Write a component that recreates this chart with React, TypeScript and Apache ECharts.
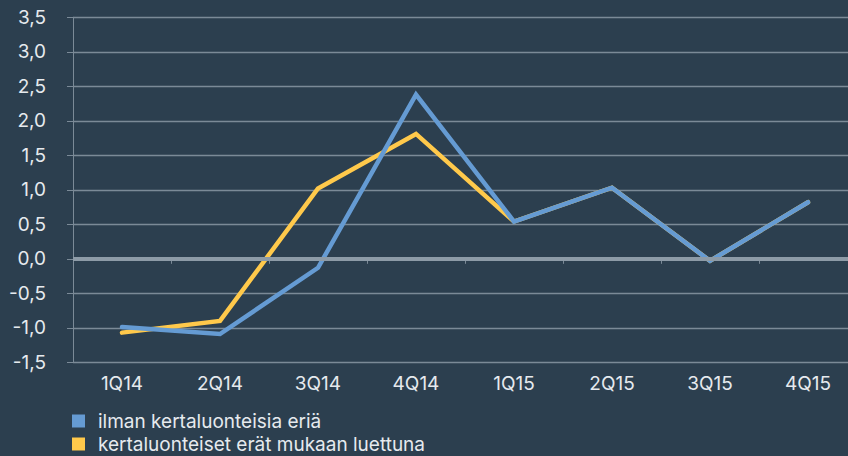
import React, { useEffect, useRef } from "react";
import * as echarts from "echarts";

const categories = ["1Q14", "2Q14", "3Q14", "4Q14", "1Q15", "2Q15", "3Q15", "4Q15"];
const seriesBlueName = "ilman kertaluonteisia eriä";
const seriesYellowName = "kertaluonteiset erät mukaan luettuna";
const blueValues = [-0.99, -1.09, -0.13, 2.38, 0.54, 1.03, -0.03, 0.82];
const yellowValues = [-1.07, -0.9, 1.02, 1.81, 0.54, 1.03, -0.03, 0.82];
const yMin = -1.5;
const yMax = 3.5;
const yInterval = 0.5;

export default function App() {
  const ref = useRef<HTMLDivElement>(null);
  useEffect(() => {
    if (!ref.current) return;
    const chart = echarts.init(ref.current, null, { renderer: "svg" });
    const gridColor = "#7b8a97";
    const textColor = "#e6eaee";
    const font = "Inter";
    const legendCommon = {
      orient: "horizontal",
      left: 72,
      itemWidth: 13,
      itemHeight: 13,
      icon: "rect",
      padding: 0,
      textStyle: { color: textColor, fontSize: 19, lineHeight: 20, fontFamily: font, padding: [0, 0, 0, 8] },
    };
    chart.setOption({
      animation: false,
      backgroundColor: "#2c3f4f",
      grid: { left: 73, top: 17.3, right: 0, bottom: 93.7, containLabel: false },
      legend: [
        { ...legendCommon, top: 411, data: [seriesBlueName] },
        { ...legendCommon, top: 434, data: [seriesYellowName] },
      ],
      xAxis: {
        type: "category",
        data: categories,
        boundaryGap: true,
        axisLine: { show: true, lineStyle: { color: gridColor, width: 1 } },
        axisTick: { show: true, length: 5, alignWithLabel: false, lineStyle: { color: gridColor } },
        axisLabel: { color: textColor, fontSize: 19, fontFamily: font, margin: 12 },
        splitLine: { show: false },
      },
      yAxis: {
        type: "value",
        min: yMin,
        max: yMax,
        interval: yInterval,
        axisLine: { show: true, lineStyle: { color: gridColor, width: 1 } },
        axisTick: { show: true, length: 6, lineStyle: { color: gridColor } },
        axisLabel: {
          color: textColor,
          fontSize: 19,
          fontFamily: font,
          margin: 27,
          formatter: (v: number) => v.toFixed(1).replace(".", ","),
        },
        splitLine: { show: true, lineStyle: { color: gridColor, width: 1.3 } },
      },
      series: [
        {
          name: "zero",
          type: "line",
          data: [],
          z: 1,
          silent: true,
          markLine: {
            silent: true,
            symbol: ["none", "none"],
            label: { show: false },
            lineStyle: { color: "#8d9ba7", width: 4, type: "solid" },
            data: [{ yAxis: 0 }],
          },
        },
        {
          name: seriesYellowName,
          type: "line",
          data: yellowValues,
          z: 3,
          symbol: "none",
          itemStyle: { color: "#ffc94b" },
          lineStyle: { color: "#ffc94b", width: 4.5, cap: "round", join: "miter" },
        },
        {
          name: seriesBlueName,
          type: "line",
          data: blueValues,
          z: 4,
          symbol: "none",
          itemStyle: { color: "#659bd3" },
          lineStyle: { color: "#659bd3", width: 4.5, cap: "round", join: "miter" },
        },
      ],
    });
    return () => chart.dispose();
  }, []);
  return (
    <div style={{ position: "fixed", left: 0, top: 0, width: 848, height: 456, overflow: "hidden" }}>
      <div ref={ref} style={{ width: 857, height: 456 }} />
    </div>
  );
}
